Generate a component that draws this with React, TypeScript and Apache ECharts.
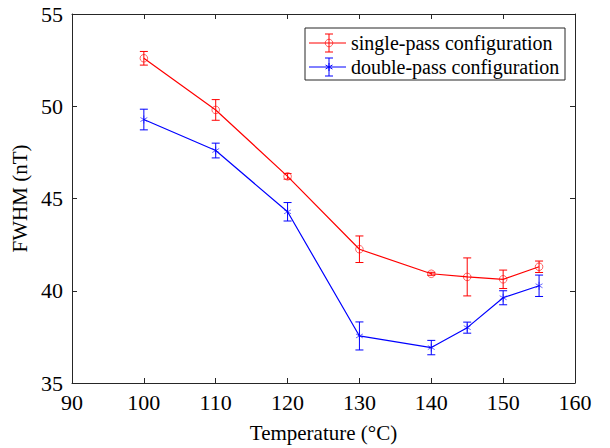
import React, { useEffect, useRef } from "react";
import * as echarts from "echarts";

const temps = [100, 110, 120, 130, 140, 145, 150, 155];
const singleVals = [52.6, 49.8, 46.2, 42.25, 40.92, 40.75, 40.62, 41.3];
const singleErr = [0.37, 0.56, 0.15, 0.72, 0.08, 1.03, 0.5, 0.31];
const doubleVals = [49.28, 47.6, 44.28, 37.55, 36.92, 38.0, 39.62, 40.27];
const doubleErr = [0.56, 0.4, 0.5, 0.76, 0.39, 0.3, 0.38, 0.58];
const seriesNames = ["single-pass configuration", "double-pass configuration"];
const xTicks = { min: 90, max: 160, interval: 10 };
const yTicks = { min: 35, max: 55, interval: 5 };

const RED = "#ff0000";
const BLUE = "#0000ff";
const AX = "#262626";
const FONT = "Liberation Serif";

function errRender(color: string, marker: "circle" | "star") {
  return (params: any, api: any) => {
    const x = api.value(0);
    const y = api.value(1);
    const e = api.value(2);
    const c = api.coord([x, y]);
    const t = api.coord([x, y + e]);
    const b = api.coord([x, y - e]);
    const w = 4;
    const st = { stroke: color, lineWidth: 1, fill: "none" };
    const children: any[] = [
      { type: "line", shape: { x1: c[0], y1: t[1], x2: c[0], y2: b[1] }, style: st },
      { type: "line", shape: { x1: c[0] - w, y1: t[1], x2: c[0] + w, y2: t[1] }, style: st },
      { type: "line", shape: { x1: c[0] - w, y1: b[1], x2: c[0] + w, y2: b[1] }, style: st },
    ];
    if (marker === "circle") {
      children.push({ type: "circle", shape: { cx: c[0], cy: c[1], r: 3.8 }, style: { stroke: color, lineWidth: 1, fill: "none", opacity: 0.6 } });
    } else {
      const r = 4;
      const a = r * 0.866;
      const h = r * 0.5;
      const ss = { stroke: color, lineWidth: 1, opacity: 0.6 };
      children.push({ type: "line", shape: { x1: c[0], y1: c[1] - r, x2: c[0], y2: c[1] + r }, style: ss });
      children.push({ type: "line", shape: { x1: c[0] - a, y1: c[1] - h, x2: c[0] + a, y2: c[1] + h }, style: ss });
      children.push({ type: "line", shape: { x1: c[0] - a, y1: c[1] + h, x2: c[0] + a, y2: c[1] - h }, style: ss });
    }
    return { type: "group", children };
  };
}

function legendItem(y: number, color: string, marker: "circle" | "star", text: string) {
  const cx = 329;
  const st = { stroke: color, lineWidth: 1, fill: "none" };
  const items: any[] = [
    { type: "line", shape: { x1: 309, y1: y, x2: 346, y2: y }, style: st },
    { type: "line", shape: { x1: cx, y1: y - 9, x2: cx, y2: y + 9 }, style: st },
    { type: "line", shape: { x1: cx - 4, y1: y - 9, x2: cx + 4, y2: y - 9 }, style: st },
    { type: "line", shape: { x1: cx - 4, y1: y + 9, x2: cx + 4, y2: y + 9 }, style: st },
  ];
  if (marker === "circle") {
    items.push({ type: "circle", shape: { cx, cy: y, r: 3.8 }, style: { ...st, opacity: 0.6 } });
  } else {
    const r = 4, a = r * 0.866, h = r * 0.5;
    items.push({ type: "line", shape: { x1: cx, y1: y - r, x2: cx, y2: y + r }, style: st });
    items.push({ type: "line", shape: { x1: cx - a, y1: y - h, x2: cx + a, y2: y + h }, style: st });
    items.push({ type: "line", shape: { x1: cx - a, y1: y + h, x2: cx + a, y2: y - h }, style: st });
  }
  items.push({
    type: "text",
    x: 351,
    y,
    style: { text, fill: "#000", fontFamily: FONT, fontSize: 20, verticalAlign: "middle", align: "left" },
  });
  return items;
}

export default function App() {
  const ref = useRef<HTMLDivElement>(null);
  useEffect(() => {
    const chart = echarts.init(ref.current!, null, { renderer: "svg" });
    const axisCommon = {
      type: "value" as const,
      axisLine: { show: true, lineStyle: { color: AX, width: 1 } },
      axisTick: { show: true, inside: true, length: 5, lineStyle: { color: AX } },
      splitLine: { show: false },
    };
    chart.setOption({
      animation: false,
      grid: { left: 72, right: 35, top: 14, bottom: 63 },
      xAxis: [
        {
          ...axisCommon,
          ...xTicks,
          position: "bottom",
          name: "Temperature (°C)",
          nameLocation: "middle",
          nameGap: 39,
          nameTextStyle: { color: "#000", fontFamily: FONT, fontSize: 21 },
          axisLabel: { color: "#000", fontFamily: FONT, fontSize: 22, margin: 8 },
        },
        { ...axisCommon, ...xTicks, position: "top", axisLabel: { show: false } },
      ],
      yAxis: [
        {
          ...axisCommon,
          ...yTicks,
          position: "left",
          name: "FWHM (nT)",
          nameLocation: "middle",
          nameGap: 39,
          nameTextStyle: { color: "#000", fontFamily: FONT, fontSize: 21 },
          axisLabel: { color: "#000", fontFamily: FONT, fontSize: 22, margin: 9 },
        },
        { ...axisCommon, ...yTicks, position: "right", axisLabel: { show: false } },
      ],
      series: [
        {
          type: "line",
          name: seriesNames[0],
          data: temps.map((t, i) => [t, singleVals[i]]),
          symbol: "none",
          lineStyle: { color: RED, width: 1.2 },
        },
        {
          type: "line",
          name: seriesNames[1],
          data: temps.map((t, i) => [t, doubleVals[i]]),
          symbol: "none",
          lineStyle: { color: BLUE, width: 1.2 },
        },
        {
          type: "custom",
          data: temps.map((t, i) => [t, singleVals[i], singleErr[i]]),
          renderItem: errRender(RED, "circle"),
          z: 3,
        },
        {
          type: "custom",
          data: temps.map((t, i) => [t, doubleVals[i], doubleErr[i]]),
          renderItem: errRender(BLUE, "star"),
          z: 3,
        },
      ],
      graphic: [
        {
          type: "rect",
          shape: { x: 305, y: 28, width: 260, height: 52 },
          style: { fill: "#fff", stroke: AX, lineWidth: 1 },
          z: 10,
        },
        ...legendItem(43, RED, "circle", seriesNames[0]).map((g) => ({ ...g, z: 11 })),
        ...legendItem(67, BLUE, "star", seriesNames[1]).map((g) => ({ ...g, z: 11 })),
      ],
    });
    return () => chart.dispose();
  }, []);
  return (
    <div
      ref={ref}
      style={{ position: "fixed", left: 0, top: 0, width: 610, height: 448, background: "#fff" }}
    />
  );
}
